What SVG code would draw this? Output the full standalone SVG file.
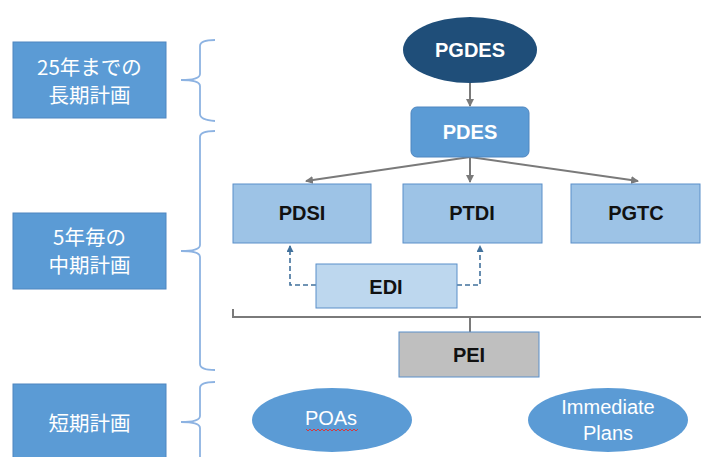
<svg xmlns="http://www.w3.org/2000/svg" width="701" height="457" viewBox="0 0 701 457">
<defs>
<marker id="ag" markerWidth="10" markerHeight="10" refX="7" refY="4" orient="auto" markerUnits="userSpaceOnUse">
<path d="M0,0 L8,4 L0,8 Z" fill="#7a7a7a"/>
</marker>
<marker id="ab" markerWidth="10" markerHeight="10" refX="6" refY="3.5" orient="auto" markerUnits="userSpaceOnUse">
<path d="M0,0 L7,3.5 L0,7 Z" fill="#41719c"/>
</marker>
<style>
.lbl{fill:#5b9bd5;stroke:#4f86c0;stroke-width:1}
.jp{font-family:"Noto Sans CJK JP","Noto Sans",sans-serif;font-size:20.5px;fill:#fff;text-anchor:middle}
.brace{fill:none;stroke:#8db3e2;stroke-width:1.8}
.bw{font-family:"Liberation Sans",Arial,sans-serif;font-size:20px;font-weight:bold;fill:#fff;text-anchor:middle}
.bk{font-family:"Liberation Sans",Arial,sans-serif;font-size:20px;font-weight:bold;fill:#111;text-anchor:middle}
.rw{font-family:"Liberation Sans",Arial,sans-serif;font-size:20px;fill:#fff;text-anchor:middle}
.lb{fill:#9dc3e6;stroke:#5b8fc9;stroke-width:1}
.gl{fill:none;stroke:#7a7a7a;stroke-width:2}
.dl{fill:none;stroke:#41719c;stroke-width:1.6;stroke-dasharray:5,3}
</style>
</defs>
<rect width="701" height="457" fill="#fff"/>

<g id="label-long">
<rect class="lbl" x="13" y="42" width="153" height="76"/>
<text class="jp" x="89.5" y="75">25年までの</text>
<text class="jp" x="89.5" y="103">長期計画</text>
</g>
<g id="label-mid">
<rect class="lbl" x="13" y="213" width="153" height="76"/>
<text class="jp" x="89.5" y="245">5年毎の</text>
<text class="jp" x="89.5" y="273">中期計画</text>
</g>
<g id="label-short">
<rect class="lbl" x="13" y="384" width="153" height="80"/>
<text class="jp" x="89.5" y="431">短期計画</text>
</g>

<g id="braces">
<path class="brace" d="M215,40 Q200,40 200,46 L200,74 Q200,80 181,80 Q200,80 200,86 L200,114 Q200,120 215,121"/>
<path class="brace" d="M215,131 Q200,131 200,137 L200,245 Q200,251 181,251 Q200,251 200,257 L200,364 Q200,370 215,370"/>
<path class="brace" d="M215,382 Q200,382 200,388 L200,416 Q200,422 181,422 Q200,422 200,428 L200,460"/>
</g>

<g id="connectors">
<line class="gl" x1="470" y1="83" x2="470" y2="106" marker-end="url(#ag)"/>
<line class="gl" x1="470" y1="157" x2="306" y2="181" marker-end="url(#ag)"/>
<line class="gl" x1="470" y1="157" x2="470" y2="182" marker-end="url(#ag)"/>
<line class="gl" x1="470" y1="157" x2="638" y2="181" marker-end="url(#ag)"/>
<path class="dl" d="M316,285 L290,285 L290,246" marker-end="url(#ab)"/>
<path class="dl" d="M457,285 L480,285 L480,246" marker-end="url(#ab)"/>
<path class="gl" d="M233,309 L233,317 L701,317"/>
<line class="gl" x1="470" y1="317" x2="470" y2="332"/>
</g>

<g id="PGDES">
<ellipse cx="470" cy="50" rx="67" ry="33" fill="#1f4e79"/>
<text class="bw" x="470" y="57">PGDES</text>
</g>
<g id="PDES">
<rect x="411" y="107" width="118" height="50" rx="6" fill="#5b9bd5" stroke="#4f86c0"/>
<text class="bw" x="470" y="139">PDES</text>
</g>
<g id="PDSI">
<rect class="lb" x="233" y="184" width="138" height="59"/>
<text class="bk" x="302" y="220">PDSI</text>
</g>
<g id="PTDI">
<rect class="lb" x="403" y="184" width="139" height="59"/>
<text class="bk" x="472" y="220">PTDI</text>
</g>
<g id="PGTC">
<rect class="lb" x="571" y="184" width="129" height="59"/>
<text class="bk" x="636" y="220">PGTC</text>
</g>
<g id="EDI">
<rect x="316" y="264" width="141" height="44" fill="#bdd7ee" stroke="#5b8fc9"/>
<text class="bk" x="386" y="294">EDI</text>
</g>
<g id="PEI">
<rect x="399" y="332" width="140" height="45" fill="#bfbfbf" stroke="#5b8fc9"/>
<text class="bk" x="469" y="362">PEI</text>
</g>
<g id="POAs">
<ellipse cx="332" cy="420" rx="80" ry="32" fill="#5b9bd5"/>
<text class="rw" x="331" y="425">POAs</text>
<path d="M306,429 l2,2 l2,-2 l2,2 l2,-2 l2,2 l2,-2 l2,2 l2,-2 l2,2 l2,-2 l2,2 l2,-2 l2,2 l2,-2 l2,2 l2,-2 l2,2 l2,-2 l2,2 l2,-2 l2,2 l2,-2 l2,2 l2,-2 l2,2 l2,-2" fill="none" stroke="#e03030" stroke-width="0.9"/>
</g>
<g id="ImmediatePlans">
<ellipse cx="608" cy="420" rx="80" ry="32" fill="#5b9bd5"/>
<text class="rw" x="608" y="414">Immediate</text>
<text class="rw" x="608" y="440">Plans</text>
</g>
</svg>
